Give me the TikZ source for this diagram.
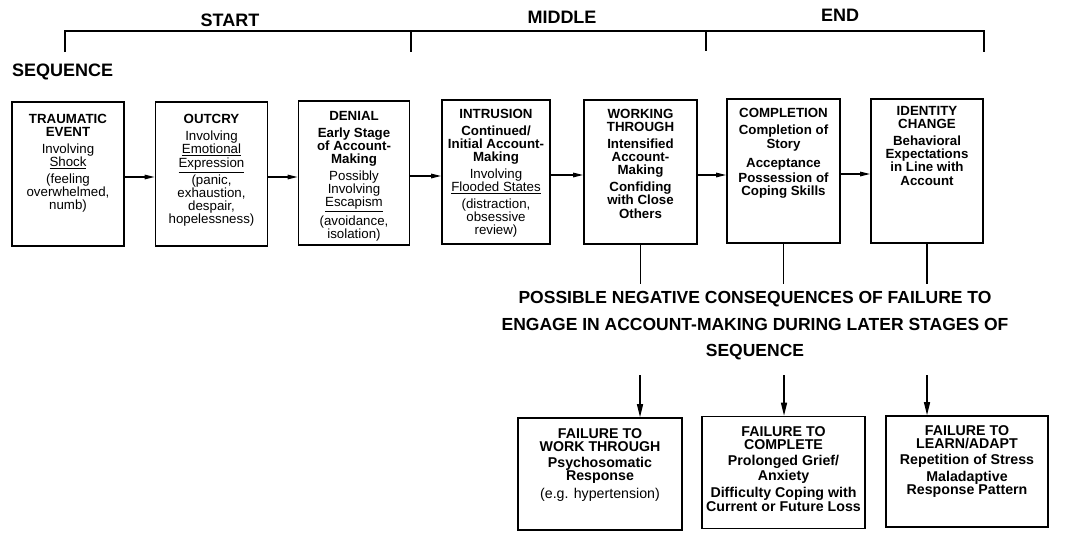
\documentclass[tikz,border=0pt]{standalone}
\usepackage{fontspec}
\setmainfont{Liberation Sans}
\usetikzlibrary{arrows.meta}
\newcommand\gap{\\[3.5pt]}
\newcommand\rg[1]{{\mdseries #1}}
\begin{document}
\begin{tikzpicture}[x=1pt,y=-1pt,
  stage/.style={draw, line width=1.6pt, minimum width=112pt, minimum height=144pt, inner sep=0pt},
  fail/.style={draw, line width=1.6pt, minimum width=163pt, minimum height=112pt, inner sep=0pt},
  stxt/.style={anchor=north, align=center, inner sep=0pt, font=\fontsize{13.3}{13.2}\selectfont\bfseries},
  ftxt/.style={anchor=north, align=center, inner sep=0pt, font=\fontsize{14.2}{12.8}\selectfont\bfseries},
  lbl/.style={font=\fontsize{18}{20}\selectfont\bfseries, inner sep=0pt},
  ln/.style={line width=1.3pt},
  arr/.style={line width=1.3pt, -{Triangle[length=10pt,width=4.5pt]}},
  darr/.style={line width=1.3pt, -{Triangle[length=13pt,width=6pt]}}
]
\useasboundingbox (0,0) rectangle (1080,533);
% bracket
\coordinate (t0) at (65,31);
\coordinate (t1) at (411,31);
\coordinate (t2) at (706,31);
\coordinate (t3) at (984,31);
\draw[ln] ([yshift=-21pt]t0) -- (t0) -- (t3) -- ([yshift=-21pt]t3);
\draw[ln] (t1) -- ([yshift=-21pt]t1);
\draw[ln] (t2) -- ([yshift=-20pt]t2);
\node[lbl] (start) at (230,20) {START};
\node[lbl] (middle) at (562,17) {MIDDLE};
\node[lbl] (end) at (840,15) {END};
\node[lbl, anchor=west] (seq) at (12,72) {SEQUENCE};
% stage boxes
\node[stage] (b1) at (68,174) {};
\node[stage] (b2) at (211.5,174) {};
\node[stage, minimum width=111pt] (b3) at (354,173) {};
\node[stage, minimum width=108pt] (b4) at (496,172) {};
\node[stage, minimum width=113pt] (b5) at (640.5,172) {};
\node[stage, minimum width=113pt] (b6) at (783.5,171) {};
\node[stage] (b7) at (927,171) {};
\node[stxt] (x1) at ([yshift=-13pt]b1.north) {TRAUMATIC\\EVENT\gap \rg{Involving}\\\rg{\underline{Shock}}\gap \rg{(feeling}\\\rg{overwhelmed,}\\\rg{numb)}};
\node[stxt] (x2) at ([yshift=-13pt]b2.north) {OUTCRY\gap \rg{Involving}\\\rg{\underline{Emotional}}\\[1pt]\rg{\underline{Expression}}\\[1pt]\rg{(panic,}\\\rg{exhaustion,}\\\rg{despair,}\\\rg{hopelessness)}};
\node[stxt] (x3) at ([yshift=-11pt]b3.north) {DENIAL\gap Early Stage\\of Account-\\Making\gap \rg{Possibly}\\\rg{Involving}\\\rg{\underline{Escapism}}\gap \rg{(avoidance,}\\\rg{isolation)}};
\node[stxt] (x4) at ([yshift=-10pt]b4.north) {INTRUSION\gap Continued/\\Initial Account-\\Making\gap \rg{Involving}\\\rg{\underline{Flooded States}}\gap \rg{(distraction,}\\\rg{obsessive}\\\rg{review)}};
\node[stxt] (x5) at ([yshift=-10pt]b5.north) {WORKING\\THROUGH\gap Intensified\\Account-\\Making\gap Confiding\\with Close\\Others};
\node[stxt] (x6) at ([yshift=-10pt]b6.north) {COMPLETION\\[4pt] Completion of\\Story\\[6pt] Acceptance\\[2pt] Possession of\\Coping Skills};
\node[stxt] (x7) at ([yshift=-8pt]b7.north) {IDENTITY\\CHANGE\gap Behavioral\\Expectations\\in Line with\\Account};
% sequence arrows
\foreach \a/\b in {b1/b2,b2/b3,b3/b4,b4/b5,b5/b6,b6/b7}
  \draw[arr] ([yshift=-3pt]\a.east) -- ([yshift=-3pt]\a.east -| \b.west);
% heading
\node[align=center, inner sep=0pt, font=\fontsize{17.5}{26.5}\selectfont\bfseries] (neg) at (755,326)
  {POSSIBLE NEGATIVE CONSEQUENCES OF FAILURE TO\\ENGAGE IN ACCOUNT-MAKING DURING LATER STAGES OF\\SEQUENCE};
% failure boxes
\node[fail, minimum width=164pt] (fA) at (600,474) {};
\node[fail] (fB) at (783.5,472.5) {};
\node[fail, minimum width=162pt, minimum height=111pt] (fC) at (967,471.5) {};
\node[ftxt] (yA) at ([yshift=-11pt]fA.north) {FAILURE TO\\WORK THROUGH\gap Psychosomatic\\Response\\[4pt] \rg{(e.g. hypertension)}};
\node[ftxt] (yB) at ([yshift=-11pt]fB.north) {FAILURE TO\\COMPLETE\gap Prolonged Grief/\\Anxiety\gap Difficulty Coping with\\Current or Future Loss};
\node[ftxt] (yC) at ([yshift=-10pt]fC.north) {FAILURE TO\\LEARN/ADAPT\gap Repetition of Stress\\[3pt] Maladaptive\\Response Pattern};
% connectors down
\coordinate (u5) at (640.5,284);
\coordinate (u6) at (783.5,284);
\coordinate (u7) at (927,284);
\coordinate (d5) at (640,375);
\coordinate (d6) at (784,375);
\coordinate (d7) at (927,375);
\draw[ln] (b5.south) -- (u5);
\draw[ln] (b6.south) -- (u6);
\draw[ln] (b7.south) -- (u7);
\draw[darr] (d5) -- (d5 |- fA.north);
\draw[darr] (d6) -- (d6 |- fB.north);
\draw[darr] (d7) -- (d7 |- fC.north);
\end{tikzpicture}
\end{document}
